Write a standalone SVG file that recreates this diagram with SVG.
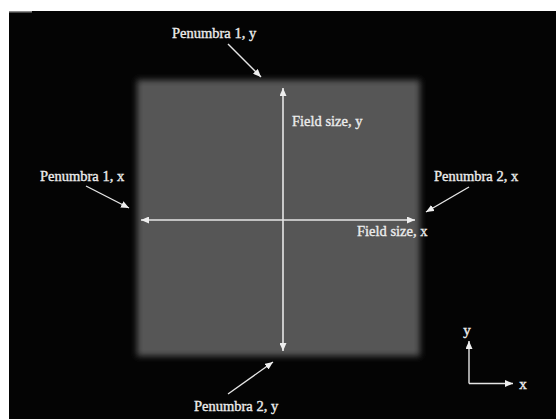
<svg xmlns="http://www.w3.org/2000/svg" width="556" height="419" viewBox="0 0 556 419">
  <style>
    .lbl { font-family: "Liberation Serif", "Times New Roman", serif; font-size: 14.5px; fill: #ececec; stroke: #ececec; stroke-width: 0.35; }
    .ax { font-family: "Liberation Serif", "Times New Roman", serif; font-size: 15px; fill: #ececec; stroke: #ececec; stroke-width: 0.4; text-anchor: middle; }
    .arr { stroke: #e6e6e6; stroke-width: 1.4; fill: none; marker-end: url(#head); }
    .dbl { stroke: #e6e6e6; stroke-width: 1.6; fill: none; marker-start: url(#head); marker-end: url(#head); }
  </style>
  <defs>
    <marker id="head" markerUnits="userSpaceOnUse" markerWidth="9" markerHeight="7" refX="8" refY="3.5" orient="auto-start-reverse">
      <path d="M0,0 L8,3.5 L0,7 z" fill="#eeeeee"/>
    </marker>
    <filter id="soft" x="-10%" y="-10%" width="120%" height="120%">
      <feGaussianBlur stdDeviation="3.4"/>
    </filter>
  </defs>

  <!-- page margin and dark image area -->
  <rect x="0" y="0" width="556" height="419" fill="#ffffff"/>
  <rect x="9" y="11" width="547" height="408" fill="#040404"/>
  <rect x="9" y="11" width="23" height="1.5" fill="#8a8a8a"/>

  <!-- radiation field -->
  <g id="field">
    <rect x="137" y="80" width="283" height="276" fill="#575757" filter="url(#soft)"/>
  </g>

  <!-- connectors -->
  <g id="connectors">
    <line class="dbl" x1="283" y1="88" x2="283" y2="351"/>
    <line class="dbl" x1="141" y1="220" x2="415" y2="220"/>
    <line class="arr" x1="228" y1="44" x2="261" y2="77"/>
    <line class="arr" x1="86" y1="186" x2="129" y2="208"/>
    <line class="arr" x1="469" y1="187" x2="426" y2="212"/>
    <line class="arr" x1="228" y1="394" x2="273" y2="362"/>
    <line class="arr" x1="469" y1="383.5" x2="469" y2="341"/>
    <line class="arr" x1="469" y1="383.5" x2="513" y2="383.5"/>
  </g>

  <!-- labels -->
  <g id="penumbra-1-y"><text class="lbl" x="172" y="38">Penumbra 1, y</text></g>
  <g id="field-size-y"><text class="lbl" x="292" y="126">Field size, y</text></g>
  <g id="penumbra-1-x"><text class="lbl" x="40" y="181">Penumbra 1, x</text></g>
  <g id="penumbra-2-x"><text class="lbl" x="434" y="181">Penumbra 2, x</text></g>
  <g id="field-size-x"><text class="lbl" x="357" y="236">Field size, x</text></g>
  <g id="penumbra-2-y"><text class="lbl" x="194" y="411">Penumbra 2, y</text></g>
  <g id="axis-y"><text class="ax" x="467" y="335">y</text></g>
  <g id="axis-x"><text class="ax" x="523" y="389">x</text></g>
</svg>
